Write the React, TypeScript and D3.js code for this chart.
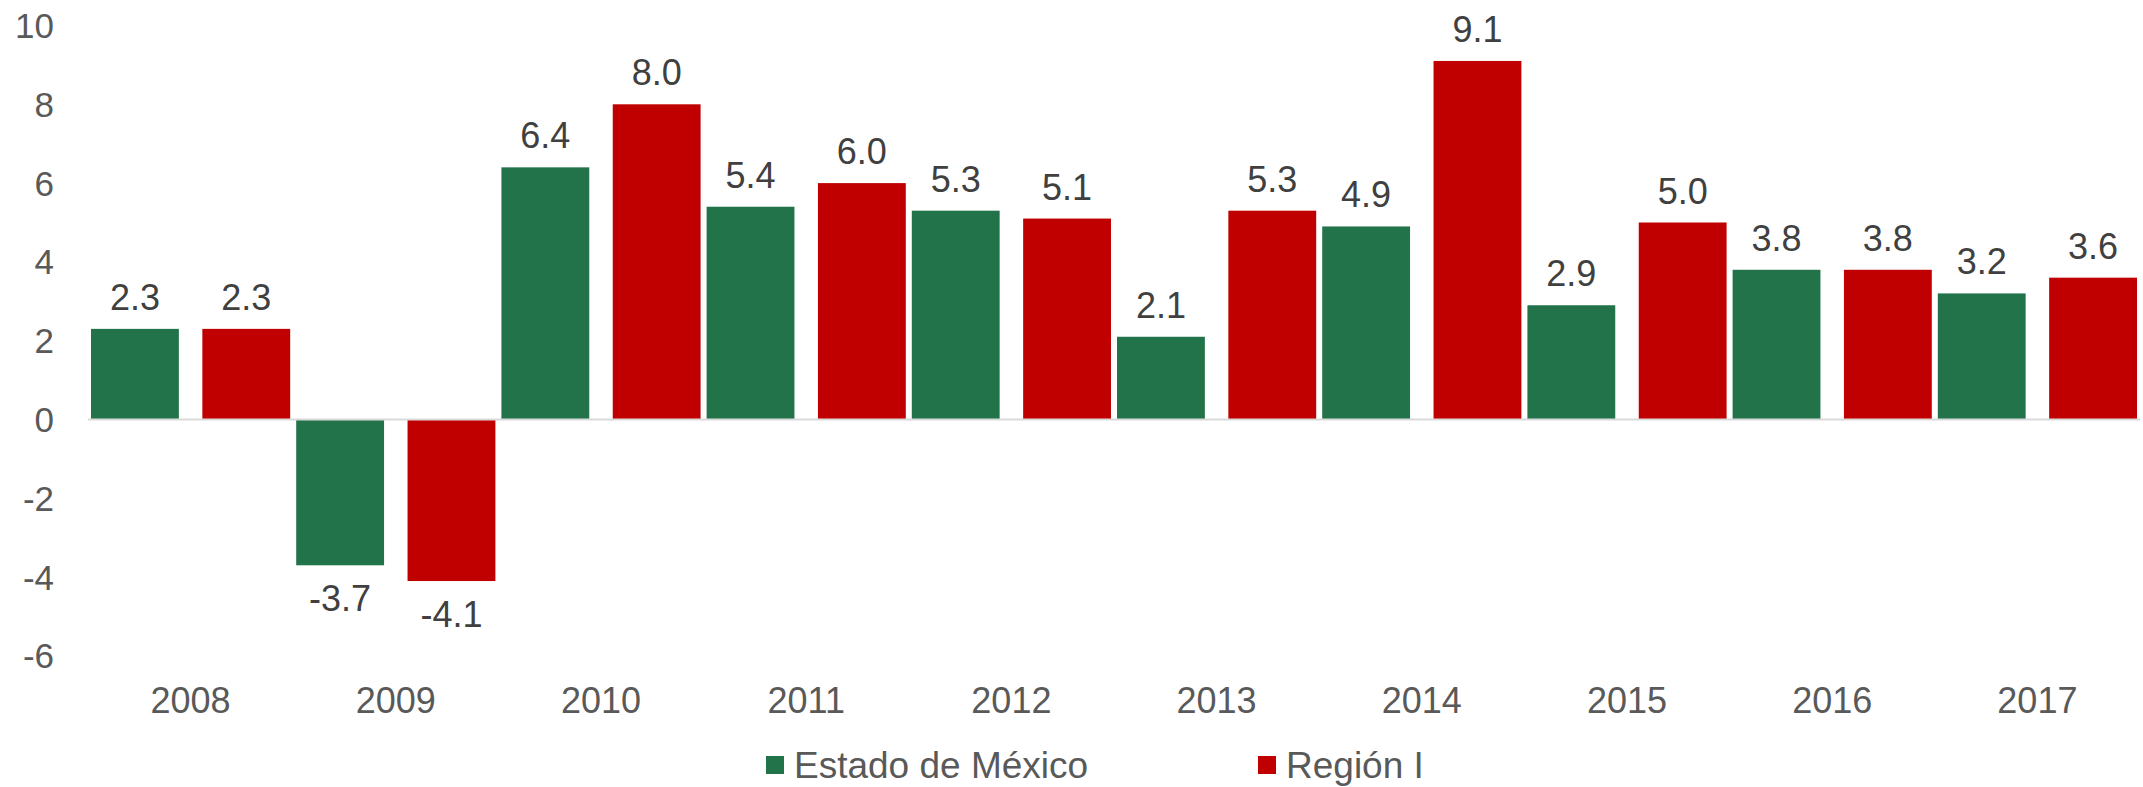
import React from "react";
import * as d3 from "d3";

const years = ["2008", "2009", "2010", "2011", "2012", "2013", "2014", "2015", "2016", "2017"];
const estadoValues = [2.3, -3.7, 6.4, 5.4, 5.3, 2.1, 4.9, 2.9, 3.8, 3.2];
const regionValues = [2.3, -4.1, 8.0, 6.0, 5.1, 5.3, 9.1, 5.0, 3.8, 3.6];
const yTicks = [10, 8, 6, 4, 2, 0, -2, -4, -6];
const seriesNames = ["Estado de México", "Región I"];
const seriesColors = ["#22734A", "#C00000"];

const W = 2143;
const H = 787;
const FONT = "Liberation Sans, Arial, sans-serif";

export default function App() {
  const x = d3.scaleBand<string>().domain(years).range([88, 2140]).padding(0);
  const sub = d3
    .scaleBand<number>()
    .domain([0, 1])
    .range([0, x.bandwidth()])
    .paddingInner(0.211)
    .paddingOuter(0.027);
  const y = d3.scaleLinear().domain([-6, 10]).range([655.9, 25.5]);
  const series = [estadoValues, regionValues];

  return (
    <svg
      width={W}
      height={H}
      style={{ position: "absolute", left: 0, top: 0, background: "#fff" }}
      fontFamily={FONT}
    >
      <rect width={W} height={H} fill="#fff" />
      {yTicks.map((t) => (
        <text key={t} x={54} y={y(t) + 12.5} textAnchor="end" fontSize={35} fill="#595959">
          {t}
        </text>
      ))}
      {series.map((vals, si) =>
        vals.map((v, i) => {
          const bx = (x(years[i]) as number) + (sub(si) as number);
          const y0 = y(0);
          const yv = y(v);
          return (
            <g key={`${si}-${i}`}>
              <rect
                x={bx}
                y={Math.min(y0, yv)}
                width={sub.bandwidth()}
                height={Math.abs(yv - y0)}
                fill={seriesColors[si]}
              />
              <text
                x={bx + sub.bandwidth() / 2}
                y={v >= 0 ? yv - 19 : yv + 46}
                textAnchor="middle"
                fontSize={36}
                fill="#404040"
              >
                {v.toFixed(1)}
              </text>
            </g>
          );
        })
      )}
      <line x1={88} x2={2140} y1={y(0)} y2={y(0)} stroke="#D9D9D9" strokeWidth={2} />
      {years.map((yr) => (
        <text
          key={yr}
          x={(x(yr) as number) + x.bandwidth() / 2}
          y={713}
          textAnchor="middle"
          fontSize={36}
          fill="#595959"
        >
          {yr}
        </text>
      ))}
      {seriesNames.map((n, i) => {
        const lx = i === 0 ? 766 : 1258;
        return (
          <g key={n}>
            <rect x={lx} y={756} width={18} height={18} fill={seriesColors[i]} />
            <text x={lx + 28} y={778} fontSize={37} fill="#595959">
              {n}
            </text>
          </g>
        );
      })}
    </svg>
  );
}
